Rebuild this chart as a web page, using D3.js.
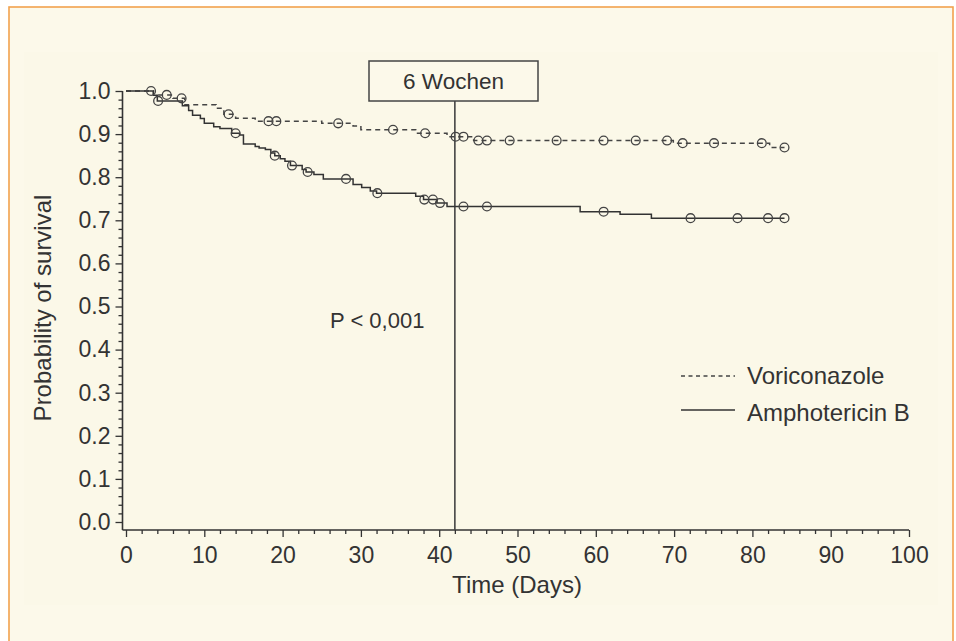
<!DOCTYPE html>
<html>
<head>
<meta charset="utf-8">
<script src="https://cdn.jsdelivr.net/npm/d3@7"></script>
<style>
  html, body { margin: 0; padding: 0; background: #ffffff; }
  svg { display: block; font-family: "Liberation Sans", Arial, Helvetica, sans-serif; }
</style>
</head>
<body>
<svg id="chart" width="956" height="641"></svg>
<script>
// ---- Data ----
const voriTimes = [0, 3.5, 6, 7.5, 11.5, 12.5, 14, 16.5, 25, 29, 30, 37, 41, 44.4, 69.9, 82.2, 84.1];
const voriSurv  = [1.0, 0.991, 0.983, 0.968, 0.960, 0.946, 0.937, 0.930, 0.925, 0.919, 0.910, 0.902, 0.894, 0.885, 0.879, 0.869, 0.869];
const voriCensor = [3.2, 5.2, 7.1, 13.1, 18.2, 19.2, 27.1, 34.1, 38.2, 42.1, 43.1, 45, 46.1, 49, 55, 61, 65.1, 69.1, 71.1, 75.1, 81.2, 84.1];

const amphoTimes = [0, 3.5, 4, 7.2, 8, 8.5, 9.5, 10, 11.2, 12, 13.5, 14.5, 15, 16.5, 17, 17.8, 18.5, 19, 19.7, 20.3, 21, 22.5, 23, 24, 25.2, 29, 30.1, 31.2, 32, 37, 38, 39.7, 41, 58, 63.1, 67.1, 84.1];
const amphoSurv  = [1.0, 0.99, 0.977, 0.966, 0.955, 0.944, 0.936, 0.925, 0.917, 0.913, 0.902, 0.898, 0.877, 0.871, 0.868, 0.864, 0.856, 0.850, 0.843, 0.837, 0.827, 0.818, 0.812, 0.806, 0.796, 0.783, 0.776, 0.768, 0.763, 0.756, 0.748, 0.740, 0.732, 0.720, 0.714, 0.705, 0.705];
const amphoCensor = [4.1, 14, 19, 21.2, 23.2, 28.1, 32.1, 38.1, 39.2, 40.1, 43.1, 46.1, 61, 72.1, 78.1, 82, 84.1];

const xMajorTicks = [0, 10, 20, 30, 40, 50, 60, 70, 80, 90, 100];
const yMajorTicks = [0.0, 0.1, 0.2, 0.3, 0.4, 0.5, 0.6, 0.7, 0.8, 0.9, 1.0];
const seriesNames = ["Voriconazole", "Amphotericin B"];
const markerDay = 42;
const markerLabel = "6 Wochen";
const pLabel = "P < 0,001";
const xTitle = "Time (Days)";
const yTitle = "Probability of survival";

// ---- Layout ----
const svg = d3.select("#chart");
const ink = "#333333";

// Background frame
svg.append("rect").attr("x", 9).attr("y", 7).attr("width", 944).attr("height", 640)
  .attr("fill", "#fcf9ea").attr("stroke", "#f2a24e").attr("stroke-width", 1.6);
svg.append("rect").attr("x", 24).attr("y", 52).attr("width", 914).attr("height", 553)
  .attr("fill", "#fbf8e8");

const x = d3.scaleLinear().domain([0, 100]).range([126, 909]);
const y = d3.scaleLinear().domain([0, 1]).range([522, 91]);
const xAxisY = 530;
const yAxisX = 122.5;

// Axis lines
svg.append("line").attr("x1", yAxisX).attr("x2", x(100)).attr("y1", xAxisY).attr("y2", xAxisY)
  .attr("stroke", ink).attr("stroke-width", 1.6);
svg.append("line").attr("x1", yAxisX).attr("x2", yAxisX).attr("y1", y(1)).attr("y2", xAxisY)
  .attr("stroke", ink).attr("stroke-width", 1.6);

// X axis ticks
const xMinor = d3.range(0, 101, 2).filter(v => v % 10 !== 0);
const gxMinor = svg.append("g").attr("transform", `translate(0,${xAxisY})`)
  .call(d3.axisBottom(x).tickValues(xMinor).tickSize(4).tickFormat(""));
const gxMajor = svg.append("g").attr("transform", `translate(0,${xAxisY})`)
  .call(d3.axisBottom(x).tickValues(xMajorTicks).tickSize(7).tickPadding(10).tickFormat(d3.format("d")));

// Y axis ticks
const yMinor = d3.range(0, 51, 1).map(v => v / 50).filter((v, i) => i % 5 !== 0);
const gyMinor = svg.append("g").attr("transform", `translate(${yAxisX},0)`)
  .call(d3.axisLeft(y).tickValues(yMinor).tickSize(4).tickFormat(""));
const gyMajor = svg.append("g").attr("transform", `translate(${yAxisX},0)`)
  .call(d3.axisLeft(y).tickValues(yMajorTicks).tickSize(7).tickPadding(5).tickFormat(d3.format(".1f")));

[gxMinor, gxMajor, gyMinor, gyMajor].forEach(g => {
  g.select(".domain").remove();
  g.selectAll(".tick line").attr("stroke", ink).attr("stroke-width", 1.3);
  g.selectAll(".tick text").attr("fill", ink).style("font-size", "23px")
    .style("font-family", '"Liberation Sans", Arial, sans-serif');
});

// Axis titles
svg.append("text").attr("x", 517).attr("y", 593).attr("text-anchor", "middle")
  .attr("fill", ink).style("font-size", "24px").text(xTitle);
svg.append("text").attr("transform", "translate(51,308) rotate(-90)").attr("text-anchor", "middle")
  .attr("fill", ink).style("font-size", "24px").text(yTitle);

// Marker line at 6 weeks with box
svg.append("line").attr("x1", x(markerDay)).attr("x2", x(markerDay)).attr("y1", 101).attr("y2", xAxisY)
  .attr("stroke", "#444").attr("stroke-width", 1.6);
svg.append("rect").attr("x", 369).attr("y", 61).attr("width", 169).attr("height", 40)
  .attr("fill", "#fcf9ea").attr("stroke", "#444").attr("stroke-width", 1.5);
svg.append("text").attr("x", 453.5).attr("y", 89).attr("text-anchor", "middle")
  .attr("fill", ink).style("font-size", "22.5px").text(markerLabel);

// P value
svg.append("text").attr("x", 330).attr("y", 328).attr("fill", ink)
  .style("font-size", "22px").text(pLabel);

// Curves
function stepValue(times, surv, t) {
  let v = surv[0];
  for (let i = 0; i < times.length; i++) { if (times[i] <= t) v = surv[i]; }
  return v;
}
const line = d3.line().x(d => x(d[0])).y(d => y(d[1])).curve(d3.curveStepAfter);

const voriData = voriTimes.map((t, i) => [t, voriSurv[i]]);
const amphoData = amphoTimes.map((t, i) => [t, amphoSurv[i]]);

svg.append("path").datum(voriData).attr("d", line).attr("fill", "none")
  .attr("stroke", "#444").attr("stroke-width", 1.5).attr("stroke-dasharray", "5,4");
svg.append("path").datum(amphoData).attr("d", line).attr("fill", "none")
  .attr("stroke", ink).attr("stroke-width", 1.5);

svg.append("g").selectAll("circle").data(voriCensor).join("circle")
  .attr("cx", d => x(d)).attr("cy", d => y(stepValue(voriTimes, voriSurv, d)))
  .attr("r", 4.4).attr("fill", "none").attr("stroke", "#444").attr("stroke-width", 1.3);
svg.append("g").selectAll("circle").data(amphoCensor).join("circle")
  .attr("cx", d => x(d)).attr("cy", d => y(stepValue(amphoTimes, amphoSurv, d)))
  .attr("r", 4.4).attr("fill", "none").attr("stroke", "#444").attr("stroke-width", 1.3);

// Legend
const legend = svg.append("g");
legend.append("line").attr("x1", 681).attr("x2", 735).attr("y1", 376).attr("y2", 376)
  .attr("stroke", "#444").attr("stroke-width", 1.5).attr("stroke-dasharray", "4,3.5");
legend.append("text").attr("x", 747).attr("y", 384).attr("fill", ink)
  .style("font-size", "24px").text(seriesNames[0]);
legend.append("line").attr("x1", 681).attr("x2", 735).attr("y1", 410).attr("y2", 410)
  .attr("stroke", ink).attr("stroke-width", 1.5);
legend.append("text").attr("x", 747).attr("y", 421).attr("fill", ink)
  .style("font-size", "24px").text(seriesNames[1]);
</script>
</body>
</html>
